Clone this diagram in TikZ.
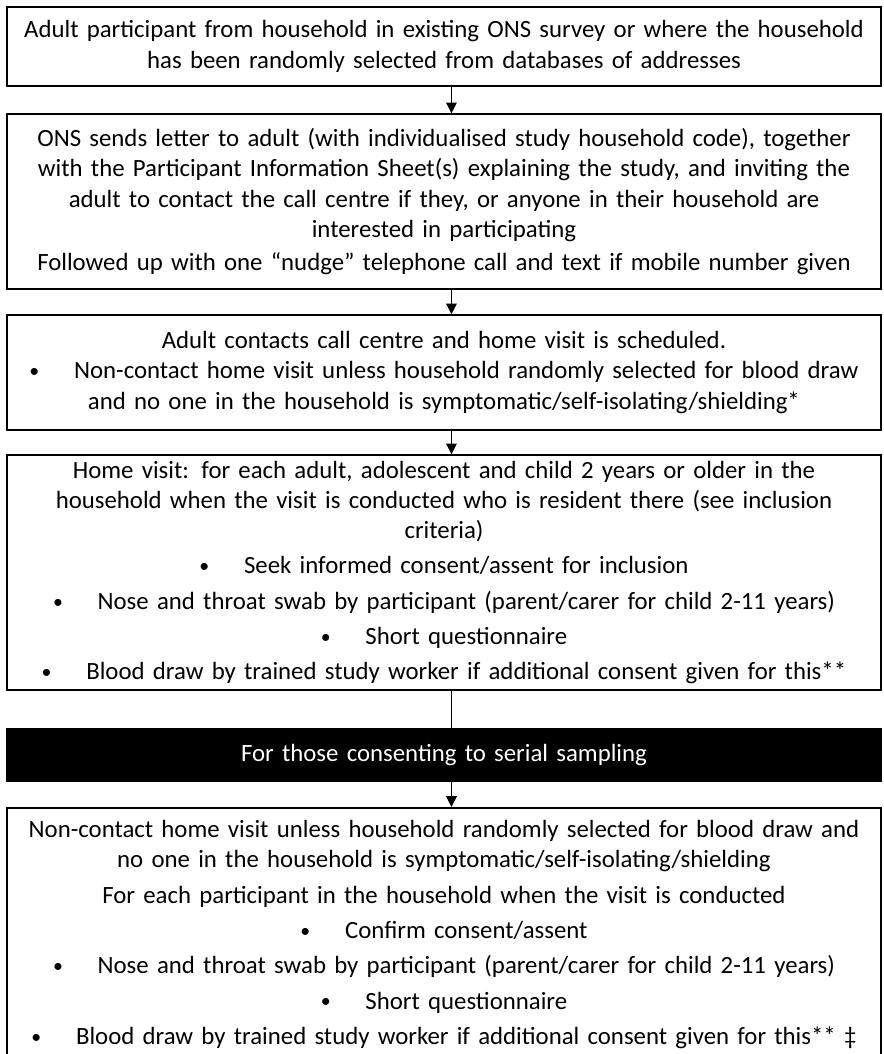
\documentclass[tikz,border=0pt]{standalone}
\usepackage{fontspec}
\setmainfont{Carlito}
\usetikzlibrary{arrows.meta}
\tikzset{
  stepbox/.style={draw,line width=1.4pt,
        inner sep=0pt,text width=655pt,align=center,
        font=\fontsize{18.6pt}{22.7pt}\selectfont},
  flow/.style={line width=0.8pt,-{Triangle[length=8pt,width=8pt]}}
}
\newcommand{\bul}{\raisebox{0.1ex}{\scalebox{0.8}{\textbullet}}\hspace{1.4em}}
\begin{document}
\begin{tikzpicture}[x=0.75pt,y=-0.75pt]
  \useasboundingbox (0,0) rectangle (883,1054);
  \node[stepbox,minimum height=59pt] (recruit)
         at (444,46.5)
    {Adult participant from household in existing ONS survey or where the household\\
     has been randomly selected from databases of addresses};
  \node[stepbox,minimum height=131pt] (letter)
         at (444,201.5)
    {ONS sends letter to adult (with individualised study household code), together\\
     with the Participant Information Sheet(s) explaining the study, and inviting the\\
     adult to contact the call centre if they, or anyone in their household are\\
     interested in participating\\[2pt]
     Followed up with one “nudge” telephone call and text if mobile number given};
  \node[stepbox,minimum height=86pt] (contact)
         at (444,372.5)
    {Adult contacts call centre and home visit is scheduled.\\
     \bul Non-contact home visit unless household randomly selected for blood draw\\
     and no one in the household is symptomatic/self-isolating/shielding*};
  \node[stepbox,minimum height=176pt] (visit)
         at (444,572.5)
    {Home visit: for each adult, adolescent and child 2 years or older in the\\
     household when the visit is conducted who is resident there (see inclusion\\
     criteria)\\[3.8pt]
     \bul Seek informed consent/assent for inclusion\\[3.8pt]
     \bul Nose and throat swab by participant (parent/carer for child 2-11 years)\\[3.8pt]
     \bul Short questionnaire\\[3.8pt]
     \bul Blood draw by trained study worker if additional consent given for this**};
  \node[stepbox,fill=black,text=white,minimum height=39pt] (serial)
         at (444,755)
    {For those consenting to serial sampling};
  \node[stepbox,minimum height=190pt] (followup)
         at (444,934.5)
    {Non-contact home visit unless household randomly selected for blood draw and\\
     no one in the household is symptomatic/self-isolating/shielding\\[3.8pt]
     For each participant in the household when the visit is conducted\\[3.8pt]
     \bul Confirm consent/assent\\[3.8pt]
     \bul Nose and throat swab by participant (parent/carer for child 2-11 years)\\[3.8pt]
     \bul Short questionnaire\\[3.8pt]
     \bul Blood draw by trained study worker if additional consent given for this** ‡};
  \draw[flow] ([xshift=5.6pt]recruit.south) -- ([xshift=5.6pt]letter.north);
  \draw[flow] ([xshift=5.6pt]letter.south) -- ([xshift=5.6pt]contact.north);
  \draw[flow] ([xshift=5.6pt]contact.south) -- ([xshift=5.6pt]visit.north);
  \draw[line width=0.8pt] ([xshift=5.6pt]visit.south) -- ([xshift=5.6pt]serial.north);
  \draw[flow] ([xshift=5.6pt]serial.south) -- ([xshift=5.6pt]followup.north);
\end{tikzpicture}
\end{document}
